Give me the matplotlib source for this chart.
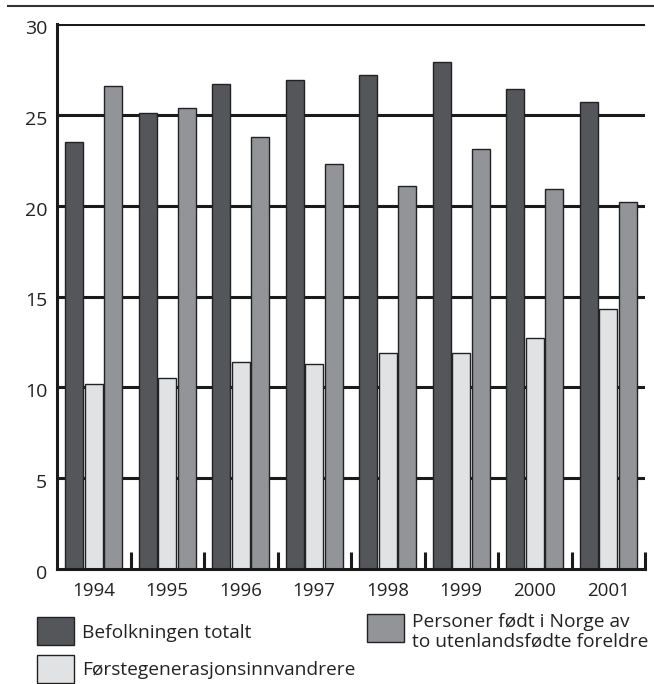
import matplotlib
matplotlib.use("Agg")
import matplotlib.pyplot as plt
import matplotlib.transforms as mtransforms
from matplotlib.patches import Rectangle
from matplotlib.lines import Line2D
import numpy as np

plt.rcParams['font.family'] = ['Open Sans', 'DejaVu Sans']

years = ['1994', '1995', '1996', '1997', '1998', '1999', '2000', '2001']
series_names = ['Befolkningen totalt', 'Førstegenerasjonsinnvandrere',
                'Personer født i Norge av\nto utenlandsfødte foreldre']
totalt = [23.5, 25.1, 26.7, 26.9, 27.2, 27.9, 26.4, 25.7]
forstegen = [10.2, 10.5, 11.4, 11.3, 11.9, 11.9, 12.7, 14.3]
fodt_norge = [26.6, 25.4, 23.8, 22.3, 21.1, 23.1, 20.9, 20.2]
colors = ['#55565a', '#e1e2e4', '#939498']
yticks = [0, 5, 10, 15, 20, 25, 30]

W, H = 654, 684
fig = plt.figure(figsize=(W/100, H/100), dpi=100)
ax = fig.add_axes([57/W, 1-569/H, (645-57)/W, (569-24)/H])

x = np.arange(len(years))
bw = 0.245
offs = [-0.268, 0.0, 0.268]
for vals, col, off in zip([totalt, forstegen, fodt_norge], colors, offs):
    ax.bar(x + off, vals, width=bw, color=col, edgecolor='#222222', linewidth=1.0, zorder=3)

for yv in yticks[1:]:
    ax.axhline(yv, color='#1a1a1a', linewidth=2.2, zorder=1)

ax.set_xlim(-0.5, len(years) - 0.5)
ax.set_ylim(0, 30)
ax.set_yticks(yticks)
ax.set_yticklabels([str(v) for v in yticks], fontsize=14, color='#222222')
ax.tick_params(axis='y', length=0, pad=7)
shift = mtransforms.ScaledTranslation(0, -3/100, fig.dpi_scale_trans)
for lab in ax.get_yticklabels():
    lab.set_transform(lab.get_transform() + shift)
ax.set_xticks(x)
ax.set_xticklabels(years, fontsize=13.5, color='#222222')
ax.tick_params(axis='x', which='major', length=0, pad=9)
ax.set_xticks(np.arange(len(years)) + 0.5, minor=True)
ax.tick_params(axis='x', which='minor', direction='in', length=12, width=2.2, color='#1a1a1a')

for s in ['top', 'right']:
    ax.spines[s].set_visible(False)
for s in ['left', 'bottom']:
    ax.spines[s].set_linewidth(2.2)
    ax.spines[s].set_color('#1a1a1a')
    ax.spines[s].set_zorder(4)

# top rule
fig.add_artist(Line2D([8/W, 1.0], [1-6/H, 1-6/H], color='#333333', linewidth=1.5))

# legend (manual)
def legend_box(px, py, col, label, tx, ty):
    fig.add_artist(Rectangle((px/W, 1-(py+28)/H), 37/W, 28/H, transform=fig.transFigure,
                             facecolor=col, edgecolor='#222222', linewidth=1.0))
    fig.text(tx/W, 1-ty/H, label, fontsize=13.8, color='#222222', va='center', ha='left',
             linespacing=1.15)

legend_box(37, 617, colors[0], series_names[0], 82, 633)
legend_box(37, 655, colors[1], series_names[1], 82, 670)
legend_box(367, 614, colors[2], series_names[2], 412, 632)

fig.savefig('out.png', dpi=100)
